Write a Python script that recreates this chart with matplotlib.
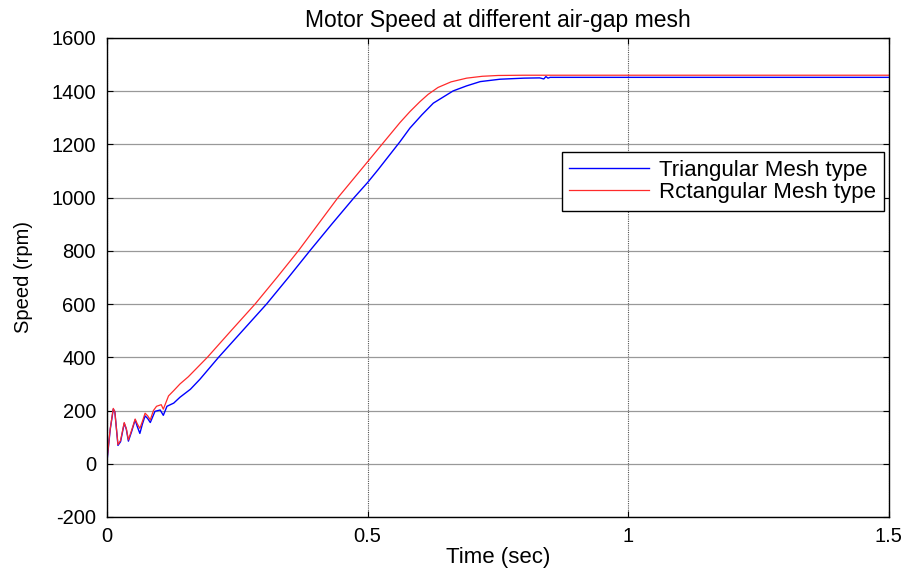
import matplotlib
matplotlib.use("Agg")
import matplotlib.pyplot as plt

# speed traces (time in s, speed in rpm)
t_tri = [0.0, 0.006, 0.012, 0.015, 0.021, 0.026, 0.033, 0.037, 0.041, 0.047,
         0.054, 0.058, 0.063, 0.068, 0.073, 0.078, 0.083, 0.092, 0.102, 0.108,
         0.115, 0.128, 0.140, 0.160, 0.178, 0.214, 0.26, 0.306, 0.348, 0.389,
         0.431, 0.474, 0.5, 0.52, 0.562, 0.581, 0.604, 0.626, 0.664, 0.690,
         0.716, 0.754, 0.80, 0.83, 0.838, 0.842, 0.846, 0.85, 1.0, 1.5]
v_tri = [10, 127, 205, 196, 69, 83, 152, 130, 85, 120,
         165, 140, 114, 150, 180, 170, 155, 197, 202, 182,
         216, 228, 250, 280, 317, 400, 500, 600, 700, 800,
         900, 1000, 1057, 1105, 1210, 1261, 1311, 1355, 1401, 1420,
         1436, 1445, 1449, 1450, 1446, 1455, 1449, 1452, 1452, 1452]

t_rec = [0.0, 0.006, 0.012, 0.015, 0.021, 0.026, 0.033, 0.037, 0.041, 0.047,
         0.054, 0.058, 0.063, 0.068, 0.073, 0.078, 0.083, 0.089, 0.095, 0.104,
         0.108, 0.118, 0.128, 0.140, 0.156, 0.1925, 0.238, 0.284, 0.326, 0.367,
         0.405, 0.443, 0.5, 0.524, 0.562, 0.581, 0.600, 0.616, 0.635,
         0.66, 0.69, 0.72, 0.75, 0.80, 1.0, 1.5]
v_rec = [15, 130, 208, 195, 72, 88, 155, 132, 90, 125,
         168, 150, 133, 160, 190, 180, 165, 200, 216, 222,
         205, 255, 275, 300, 327, 400, 500, 600, 700, 800,
         900, 1000, 1135, 1192, 1282, 1323, 1360, 1388, 1414,
         1435, 1449, 1456, 1459, 1460, 1460, 1460]

x_ticks = [0, 0.5, 1, 1.5]
x_labels = ["0", "0.5", "1", "1.5"]
y_ticks = [-200, 0, 200, 400, 600, 800, 1000, 1200, 1400, 1600]

plt.rcParams['font.family'] = ['Liberation Sans', 'DejaVu Sans']
plt.rcParams['axes.unicode_minus'] = False

fig = plt.figure(figsize=(9.07, 5.70), dpi=100)
ax = fig.add_axes([0.118, 0.093, 0.862, 0.8404])

ax.plot(t_tri, v_tri, color='#0000ff', lw=1.0, label='Triangular Mesh type')
ax.plot(t_rec, v_rec, color='#ff2a2a', lw=0.9, label='Rctangular Mesh type')

ax.set_xlim(0, 1.5)
ax.set_ylim(-200, 1600)
ax.set_xticks(x_ticks)
ax.set_xticklabels(x_labels)
ax.set_yticks(y_ticks)

ax.yaxis.grid(True, color='#999999', lw=0.9, ls='-')
ax.xaxis.grid(True, color='#555555', lw=0.8, ls=(0, (1, 1)))
ax.set_axisbelow(True)

ax.tick_params(direction='in', top=True, right=True, length=4, width=0.8,
               labelsize=14.5)
ax.tick_params(axis='x', pad=7)
ax.tick_params(axis='y', pad=8)
for s in ax.spines.values():
    s.set_linewidth(1.0)
    s.set_color('black')

ax.set_title('Motor Speed at different air-gap mesh', fontsize=16.5, pad=8)
ax.set_xlabel('Time (sec)', fontsize=16, labelpad=1)
ax.set_ylabel('Speed (rpm)', fontsize=14.5, labelpad=13)

leg = ax.legend(loc='upper right', bbox_to_anchor=(0.994, 0.762),
                fontsize=16, frameon=True, fancybox=False, borderpad=0.35,
                handlelength=3.6, handletextpad=0.45, labelspacing=0.05,
                borderaxespad=0)
leg.get_frame().set_edgecolor('black')
leg.get_frame().set_linewidth(1.0)
leg.get_frame().set_alpha(1.0)

fig.savefig('out.png', dpi=100, facecolor='white')
